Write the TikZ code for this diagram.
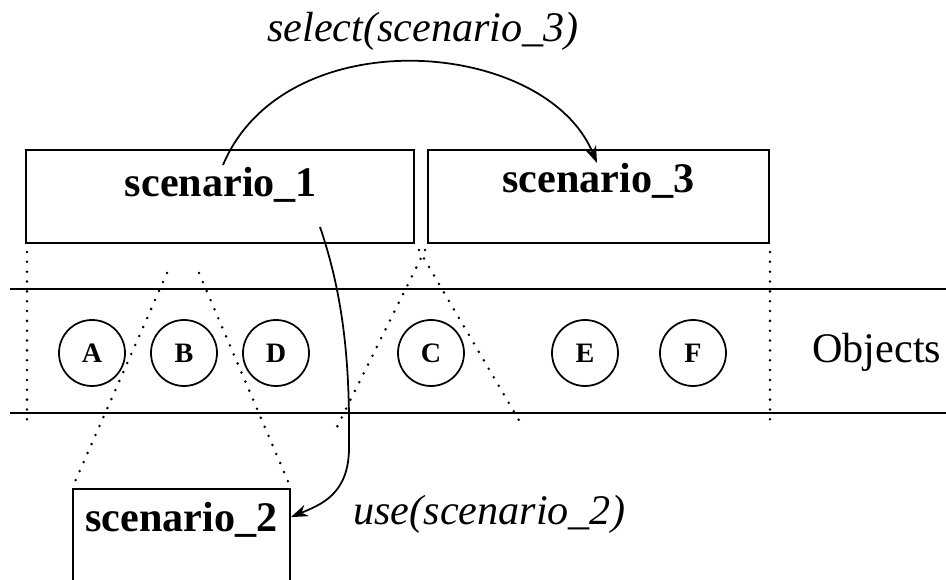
\documentclass[tikz,border=0pt]{standalone}
\usepackage{fontspec}
\setmainfont{Liberation Serif}
\usetikzlibrary{arrows.meta}

\tikzset{
  box/.style={draw, line width=1pt, inner sep=0pt},
  boxtext/.style={font=\fontsize{24}{28}\selectfont\bfseries, anchor=base, inner sep=0pt},
  calltext/.style={font=\fontsize{24}{28}\selectfont\itshape, anchor=base, inner sep=0pt},
  obj/.style={draw, circle, line width=1pt, minimum size=13.2mm, inner sep=0pt,
    font=\fontsize{16}{18}\selectfont\bfseries},
  dotline/.style={line width=1.6pt, dash pattern=on 0pt off 5.6pt, line cap=round},
  flow/.style={line width=1pt, -{Stealth[length=3.4mm,width=2.4mm]}}
}

\begin{document}
\begin{tikzpicture}[x=0.2mm, y=-0.2mm]

  \useasboundingbox (0,0) rectangle (946,580);
  \clip (0,0) rectangle (946,580);

  % Scenario boxes
  \node[box, minimum width=77.6mm, minimum height=18.6mm] (s1) at (220,196.5) {};
  \node[box, minimum width=68.2mm, minimum height=18.6mm] (s3) at (598.5,196.5) {};
  \node[box, minimum width=43.4mm, minimum height=26.2mm] (s2) at (181.5,554.5) {};
  \node[boxtext] (t1) at (221,197) {scenario\_1};
  \node[boxtext] (t3) at (598.5,193) {scenario\_3};
  \node[boxtext] (t2) at (181.5,532) {scenario\_2};

  % Object band
  \draw[line width=1pt] (10,289) -- (946,289);
  \draw[line width=1pt] (10,413) -- (946,413);
  \node[obj] (a) at (92,353) {A};
  \node[obj] (b) at (184,353) {B};
  \node[obj] (d) at (276,353) {D};
  \node[obj] (c) at (431,353) {C};
  \node[obj] (e) at (585,353) {E};
  \node[obj] (f) at (693,353) {F};
  \node[font=\fontsize{24}{28}\selectfont, anchor=base west, inner sep=0pt] (objs) at (812,363) {Objects};

  % Dotted extents
  \draw[dotline] (27,252) -- (27,428);
  \draw[dotline] (770,252) -- (770,428);
  \draw[dotline] (167,273) -- (s2.north west);
  \draw[dotline] (199,273) -- (s2.north east);
  \draw[dotline] (425,250) -- (337,427);
  \draw[dotline] (419,250) -- (523,427);

  % Calls
  \coordinate (sel0) at (223,165);
  \coordinate (sel1) at (597,163);
  \draw[flow] (sel0) .. controls (285,18) and (545,38) .. (sel1);
  \node[calltext] (lsel) at (423,42) {select(scenario\_3)};

  \coordinate (use0) at (320,227);
  \coordinate (use1) at (349,450);
  \draw[flow] (use0) .. controls (345,300) and (350,370) .. (use1)
    .. controls (348,495) and (320,505) .. ([yshift=-5.8mm]s2.north east);
  \node[calltext, anchor=base west] (luse) at (353,525) {use(scenario\_2)};

\end{tikzpicture}
\end{document}
